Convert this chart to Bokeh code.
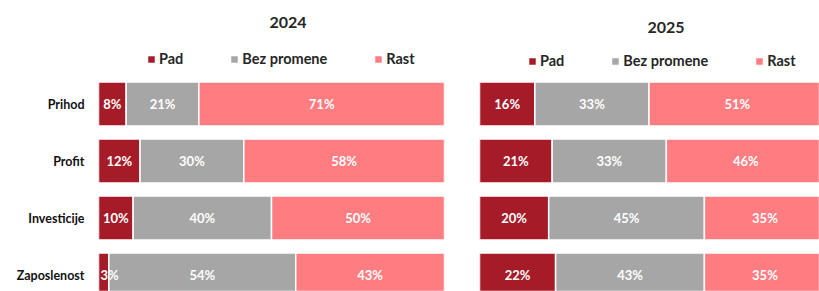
from bokeh.plotting import figure
from bokeh.models import ColumnDataSource, Range1d, FixedTicker, Label
from bokeh.layouts import row
from bokeh.core.properties import value
from bokeh.embed import file_html
from bokeh.resources import INLINE

categories = ["Prihod", "Profit", "Investicije", "Zaposlenost"]
series_names = ["Pad", "Bez promene", "Rast"]
colors = ["#A51C28", "#A6A6A6", "#FF7C80"]

pad_2024 = [8, 12, 10, 3]
bez_2024 = [21, 30, 40, 54]
rast_2024 = [71, 58, 50, 43]

pad_2025 = [16, 21, 20, 22]
bez_2025 = [33, 33, 45, 43]
rast_2025 = [51, 46, 35, 35]

FONT = "Lato"


def make_panel(year, pad, bez, rast, width, border_left, border_right, x_end,
               show_axis, title_x, title_y, legend_y):
    p = figure(width=width, height=291, output_backend="svg", toolbar_location=None,
               x_range=Range1d(0, x_end), y_range=Range1d(3.289, -1.816),
               x_axis_location=None, y_axis_location="left" if show_axis else None,
               min_border_left=border_left, min_border_right=border_right,
               min_border_top=0, min_border_bottom=0)
    p.outline_line_color = None
    p.xgrid.visible = False
    p.ygrid.visible = False
    p.background_fill_color = "white"
    p.border_fill_color = "white"

    ys = list(range(len(categories)))
    src = ColumnDataSource(dict(y=ys, a=pad, b=bez, c=rast))
    p.hbar_stack(["a", "b", "c"], y="y", height=0.775, color=colors,
                 line_color="white", line_width=1.5, source=src,
                 legend_label=series_names)

    # value labels
    lx, ly, lt = [], [], []
    for i in ys:
        cum = 0
        for v in (pad[i], bez[i], rast[i]):
            lx.append(max(cum + v / 2, 3.2))
            ly.append(i)
            lt.append(f"{v}%")
            cum += v
    p.text(x=lx, y=ly, text=lt, text_color="white", text_font=value(FONT),
           text_font_style="bold", text_font_size="13px",
           text_align="center", text_baseline="middle")

    if show_axis:
        ax = p.yaxis[0]
        ax.ticker = FixedTicker(ticks=ys)
        ax.major_label_overrides = {i: c for i, c in zip(ys, categories)}
        ax.axis_line_color = None
        ax.major_tick_line_color = None
        ax.minor_tick_line_color = None
        ax.major_tick_out = 0
        ax.major_tick_in = 0
        ax.major_label_standoff = 14
        ax.major_label_text_font = FONT
        ax.major_label_text_font_style = "bold"
        ax.major_label_text_font_size = "12.5px"
        ax.major_label_text_color = "#111111"

    p.add_layout(Label(x=title_x, y=title_y, text=str(year), text_font=FONT,
                       text_font_style="bold", text_font_size="16px",
                       text_color="#262626", text_align="center",
                       text_baseline="middle"))

    lg = p.legend[0]
    lg.orientation = "horizontal"
    lg.location = (48, legend_y)
    lg.padding = 0
    lg.margin = 0
    lg.spacing = 46
    lg.label_standoff = 3
    lg.glyph_width = 10
    lg.glyph_height = 10
    lg.label_height = 16
    lg.label_text_font = FONT
    lg.label_text_font_style = "bold"
    lg.label_text_font_size = "14.5px"
    lg.label_text_color = "#262626"
    lg.border_line_color = None
    lg.background_fill_alpha = 0
    return p


p1 = make_panel(2024, pad_2024, bez_2024, rast_2024, 460, 98, 16, 100, True,
                54.77, -1.43, 224)
p2 = make_panel(2025, pad_2025, bez_2025, rast_2025, 359, 19, 0, 98.27, False,
                53.9, -1.342, 222)

layout = row(p1, p2)
open("out.html", "w").write(file_html(layout, INLINE))
